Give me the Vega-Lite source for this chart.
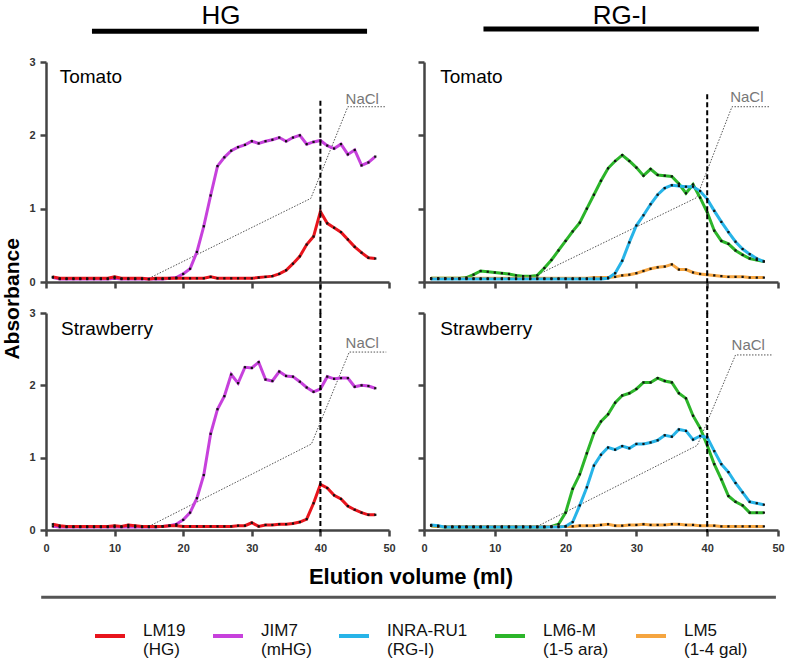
{
"$schema": "https://vega.github.io/schema/vega-lite/v6.json",
"background": "white",
"padding": {"left": 2, "top": 2, "right": 5, "bottom": 5},
"config": {
  "view": {"stroke": null},
  "font": "Liberation Sans",
  "axis": {"domainColor": "#444", "domainWidth": 2.5, "tickColor": "#444", "tickWidth": 2.5, "tickSize": 6, "grid": false, "labelFontWeight": "bold", "labelFontSize": 11, "labelColor": "#333", "labelFlush": false, "labelOverlap": false},
  "legend": {"title": null, "orient": "none", "legendX": 47, "legendY": 557, "direction": "horizontal", "columns": 5, "symbolType": "stroke", "symbolStrokeWidth": 4, "symbolSize": 900, "labelFontSize": 17, "labelColor": "#111", "labelLimit": 300, "columnPadding": 19, "labelOffset": 16, "labelBaseline": "alphabetic"}
},
"datasets": {
"abs": [
{"f":"T","s":"JIM7","x":1,"y":0.06},{"f":"T","s":"JIM7","x":2,"y":0.04},{"f":"T","s":"JIM7","x":3,"y":0.04},{"f":"T","s":"JIM7","x":4,"y":0.04},{"f":"T","s":"JIM7","x":5,"y":0.04},{"f":"T","s":"JIM7","x":6,"y":0.04},{"f":"T","s":"JIM7","x":7,"y":0.04},{"f":"T","s":"JIM7","x":8,"y":0.04},{"f":"T","s":"JIM7","x":9,"y":0.04},{"f":"T","s":"JIM7","x":10,"y":0.05},{"f":"T","s":"JIM7","x":11,"y":0.04},{"f":"T","s":"JIM7","x":12,"y":0.04},{"f":"T","s":"JIM7","x":13,"y":0.04},{"f":"T","s":"JIM7","x":14,"y":0.04},{"f":"T","s":"JIM7","x":15,"y":0.04},{"f":"T","s":"JIM7","x":16,"y":0.04},{"f":"T","s":"JIM7","x":17,"y":0.04},{"f":"T","s":"JIM7","x":18,"y":0.05},{"f":"T","s":"JIM7","x":19,"y":0.06},{"f":"T","s":"JIM7","x":20,"y":0.11},{"f":"T","s":"JIM7","x":21,"y":0.18},{"f":"T","s":"JIM7","x":22,"y":0.41},{"f":"T","s":"JIM7","x":23,"y":0.76},{"f":"T","s":"JIM7","x":24,"y":1.18},{"f":"T","s":"JIM7","x":25,"y":1.58},{"f":"T","s":"JIM7","x":26,"y":1.7},{"f":"T","s":"JIM7","x":27,"y":1.79},{"f":"T","s":"JIM7","x":28,"y":1.84},{"f":"T","s":"JIM7","x":29,"y":1.87},{"f":"T","s":"JIM7","x":30,"y":1.92},{"f":"T","s":"JIM7","x":31,"y":1.89},{"f":"T","s":"JIM7","x":32,"y":1.92},{"f":"T","s":"JIM7","x":33,"y":1.94},{"f":"T","s":"JIM7","x":34,"y":1.97},{"f":"T","s":"JIM7","x":35,"y":1.92},{"f":"T","s":"JIM7","x":36,"y":1.97},{"f":"T","s":"JIM7","x":37,"y":2.0},{"f":"T","s":"JIM7","x":38,"y":1.88},{"f":"T","s":"JIM7","x":39,"y":1.91},{"f":"T","s":"JIM7","x":40,"y":1.93},{"f":"T","s":"JIM7","x":41,"y":1.86},{"f":"T","s":"JIM7","x":42,"y":1.82},{"f":"T","s":"JIM7","x":43,"y":1.88},{"f":"T","s":"JIM7","x":44,"y":1.74},{"f":"T","s":"JIM7","x":45,"y":1.8},{"f":"T","s":"JIM7","x":46,"y":1.59},{"f":"T","s":"JIM7","x":47,"y":1.63},{"f":"T","s":"JIM7","x":48,"y":1.71},
{"f":"T","s":"LM19","x":1,"y":0.07},{"f":"T","s":"LM19","x":2,"y":0.05},{"f":"T","s":"LM19","x":3,"y":0.05},{"f":"T","s":"LM19","x":4,"y":0.05},{"f":"T","s":"LM19","x":5,"y":0.05},{"f":"T","s":"LM19","x":6,"y":0.05},{"f":"T","s":"LM19","x":7,"y":0.05},{"f":"T","s":"LM19","x":8,"y":0.05},{"f":"T","s":"LM19","x":9,"y":0.05},{"f":"T","s":"LM19","x":10,"y":0.07},{"f":"T","s":"LM19","x":11,"y":0.05},{"f":"T","s":"LM19","x":12,"y":0.05},{"f":"T","s":"LM19","x":13,"y":0.05},{"f":"T","s":"LM19","x":14,"y":0.05},{"f":"T","s":"LM19","x":15,"y":0.04},{"f":"T","s":"LM19","x":16,"y":0.05},{"f":"T","s":"LM19","x":17,"y":0.05},{"f":"T","s":"LM19","x":18,"y":0.05},{"f":"T","s":"LM19","x":19,"y":0.05},{"f":"T","s":"LM19","x":20,"y":0.05},{"f":"T","s":"LM19","x":21,"y":0.05},{"f":"T","s":"LM19","x":22,"y":0.05},{"f":"T","s":"LM19","x":23,"y":0.05},{"f":"T","s":"LM19","x":24,"y":0.07},{"f":"T","s":"LM19","x":25,"y":0.05},{"f":"T","s":"LM19","x":26,"y":0.05},{"f":"T","s":"LM19","x":27,"y":0.05},{"f":"T","s":"LM19","x":28,"y":0.05},{"f":"T","s":"LM19","x":29,"y":0.05},{"f":"T","s":"LM19","x":30,"y":0.05},{"f":"T","s":"LM19","x":31,"y":0.06},{"f":"T","s":"LM19","x":32,"y":0.07},{"f":"T","s":"LM19","x":33,"y":0.08},{"f":"T","s":"LM19","x":34,"y":0.11},{"f":"T","s":"LM19","x":35,"y":0.16},{"f":"T","s":"LM19","x":36,"y":0.25},{"f":"T","s":"LM19","x":37,"y":0.35},{"f":"T","s":"LM19","x":38,"y":0.51},{"f":"T","s":"LM19","x":39,"y":0.62},{"f":"T","s":"LM19","x":40,"y":0.96},{"f":"T","s":"LM19","x":41,"y":0.8},{"f":"T","s":"LM19","x":42,"y":0.74},{"f":"T","s":"LM19","x":43,"y":0.68},{"f":"T","s":"LM19","x":44,"y":0.58},{"f":"T","s":"LM19","x":45,"y":0.48},{"f":"T","s":"LM19","x":46,"y":0.4},{"f":"T","s":"LM19","x":47,"y":0.33},{"f":"T","s":"LM19","x":48,"y":0.32},
{"f":"S","s":"JIM7","x":1,"y":0.05},{"f":"S","s":"JIM7","x":2,"y":0.04},{"f":"S","s":"JIM7","x":3,"y":0.04},{"f":"S","s":"JIM7","x":4,"y":0.04},{"f":"S","s":"JIM7","x":5,"y":0.04},{"f":"S","s":"JIM7","x":6,"y":0.04},{"f":"S","s":"JIM7","x":7,"y":0.04},{"f":"S","s":"JIM7","x":8,"y":0.04},{"f":"S","s":"JIM7","x":9,"y":0.04},{"f":"S","s":"JIM7","x":10,"y":0.04},{"f":"S","s":"JIM7","x":11,"y":0.04},{"f":"S","s":"JIM7","x":12,"y":0.04},{"f":"S","s":"JIM7","x":13,"y":0.04},{"f":"S","s":"JIM7","x":14,"y":0.04},{"f":"S","s":"JIM7","x":15,"y":0.04},{"f":"S","s":"JIM7","x":16,"y":0.04},{"f":"S","s":"JIM7","x":17,"y":0.05},{"f":"S","s":"JIM7","x":18,"y":0.06},{"f":"S","s":"JIM7","x":19,"y":0.08},{"f":"S","s":"JIM7","x":20,"y":0.14},{"f":"S","s":"JIM7","x":21,"y":0.24},{"f":"S","s":"JIM7","x":22,"y":0.44},{"f":"S","s":"JIM7","x":23,"y":0.76},{"f":"S","s":"JIM7","x":24,"y":1.33},{"f":"S","s":"JIM7","x":25,"y":1.67},{"f":"S","s":"JIM7","x":26,"y":1.85},{"f":"S","s":"JIM7","x":27,"y":2.15},{"f":"S","s":"JIM7","x":28,"y":2.03},{"f":"S","s":"JIM7","x":29,"y":2.25},{"f":"S","s":"JIM7","x":30,"y":2.24},{"f":"S","s":"JIM7","x":31,"y":2.32},{"f":"S","s":"JIM7","x":32,"y":2.08},{"f":"S","s":"JIM7","x":33,"y":2.06},{"f":"S","s":"JIM7","x":34,"y":2.19},{"f":"S","s":"JIM7","x":35,"y":2.13},{"f":"S","s":"JIM7","x":36,"y":2.12},{"f":"S","s":"JIM7","x":37,"y":2.05},{"f":"S","s":"JIM7","x":38,"y":1.97},{"f":"S","s":"JIM7","x":39,"y":1.91},{"f":"S","s":"JIM7","x":40,"y":1.95},{"f":"S","s":"JIM7","x":41,"y":2.12},{"f":"S","s":"JIM7","x":42,"y":2.09},{"f":"S","s":"JIM7","x":43,"y":2.1},{"f":"S","s":"JIM7","x":44,"y":2.1},{"f":"S","s":"JIM7","x":45,"y":1.98},{"f":"S","s":"JIM7","x":46,"y":2.0},{"f":"S","s":"JIM7","x":47,"y":1.99},{"f":"S","s":"JIM7","x":48,"y":1.96},
{"f":"S","s":"LM19","x":1,"y":0.08},{"f":"S","s":"LM19","x":2,"y":0.06},{"f":"S","s":"LM19","x":3,"y":0.05},{"f":"S","s":"LM19","x":4,"y":0.05},{"f":"S","s":"LM19","x":5,"y":0.05},{"f":"S","s":"LM19","x":6,"y":0.05},{"f":"S","s":"LM19","x":7,"y":0.05},{"f":"S","s":"LM19","x":8,"y":0.05},{"f":"S","s":"LM19","x":9,"y":0.05},{"f":"S","s":"LM19","x":10,"y":0.06},{"f":"S","s":"LM19","x":11,"y":0.05},{"f":"S","s":"LM19","x":12,"y":0.07},{"f":"S","s":"LM19","x":13,"y":0.06},{"f":"S","s":"LM19","x":14,"y":0.05},{"f":"S","s":"LM19","x":15,"y":0.05},{"f":"S","s":"LM19","x":16,"y":0.05},{"f":"S","s":"LM19","x":17,"y":0.05},{"f":"S","s":"LM19","x":18,"y":0.06},{"f":"S","s":"LM19","x":19,"y":0.06},{"f":"S","s":"LM19","x":20,"y":0.05},{"f":"S","s":"LM19","x":21,"y":0.05},{"f":"S","s":"LM19","x":22,"y":0.05},{"f":"S","s":"LM19","x":23,"y":0.05},{"f":"S","s":"LM19","x":24,"y":0.05},{"f":"S","s":"LM19","x":25,"y":0.05},{"f":"S","s":"LM19","x":26,"y":0.05},{"f":"S","s":"LM19","x":27,"y":0.05},{"f":"S","s":"LM19","x":28,"y":0.06},{"f":"S","s":"LM19","x":29,"y":0.06},{"f":"S","s":"LM19","x":30,"y":0.1},{"f":"S","s":"LM19","x":31,"y":0.05},{"f":"S","s":"LM19","x":32,"y":0.07},{"f":"S","s":"LM19","x":33,"y":0.07},{"f":"S","s":"LM19","x":34,"y":0.08},{"f":"S","s":"LM19","x":35,"y":0.08},{"f":"S","s":"LM19","x":36,"y":0.09},{"f":"S","s":"LM19","x":37,"y":0.11},{"f":"S","s":"LM19","x":38,"y":0.15},{"f":"S","s":"LM19","x":39,"y":0.37},{"f":"S","s":"LM19","x":40,"y":0.63},{"f":"S","s":"LM19","x":41,"y":0.58},{"f":"S","s":"LM19","x":42,"y":0.48},{"f":"S","s":"LM19","x":43,"y":0.43},{"f":"S","s":"LM19","x":44,"y":0.33},{"f":"S","s":"LM19","x":45,"y":0.28},{"f":"S","s":"LM19","x":46,"y":0.24},{"f":"S","s":"LM19","x":47,"y":0.21},{"f":"S","s":"LM19","x":48,"y":0.21},
{"f":"T","s":"LM6-M","x":1,"y":0.05},{"f":"T","s":"LM6-M","x":2,"y":0.05},{"f":"T","s":"LM6-M","x":3,"y":0.05},{"f":"T","s":"LM6-M","x":4,"y":0.05},{"f":"T","s":"LM6-M","x":5,"y":0.05},{"f":"T","s":"LM6-M","x":6,"y":0.06},{"f":"T","s":"LM6-M","x":7,"y":0.1},{"f":"T","s":"LM6-M","x":8,"y":0.15},{"f":"T","s":"LM6-M","x":9,"y":0.14},{"f":"T","s":"LM6-M","x":10,"y":0.13},{"f":"T","s":"LM6-M","x":11,"y":0.12},{"f":"T","s":"LM6-M","x":12,"y":0.11},{"f":"T","s":"LM6-M","x":13,"y":0.09},{"f":"T","s":"LM6-M","x":14,"y":0.08},{"f":"T","s":"LM6-M","x":15,"y":0.08},{"f":"T","s":"LM6-M","x":16,"y":0.09},{"f":"T","s":"LM6-M","x":17,"y":0.19},{"f":"T","s":"LM6-M","x":18,"y":0.3},{"f":"T","s":"LM6-M","x":19,"y":0.43},{"f":"T","s":"LM6-M","x":20,"y":0.56},{"f":"T","s":"LM6-M","x":21,"y":0.69},{"f":"T","s":"LM6-M","x":22,"y":0.81},{"f":"T","s":"LM6-M","x":23,"y":1.0},{"f":"T","s":"LM6-M","x":24,"y":1.19},{"f":"T","s":"LM6-M","x":25,"y":1.38},{"f":"T","s":"LM6-M","x":26,"y":1.55},{"f":"T","s":"LM6-M","x":27,"y":1.65},{"f":"T","s":"LM6-M","x":28,"y":1.73},{"f":"T","s":"LM6-M","x":29,"y":1.65},{"f":"T","s":"LM6-M","x":30,"y":1.56},{"f":"T","s":"LM6-M","x":31,"y":1.45},{"f":"T","s":"LM6-M","x":32,"y":1.54},{"f":"T","s":"LM6-M","x":33,"y":1.46},{"f":"T","s":"LM6-M","x":34,"y":1.45},{"f":"T","s":"LM6-M","x":35,"y":1.44},{"f":"T","s":"LM6-M","x":36,"y":1.34},{"f":"T","s":"LM6-M","x":37,"y":1.21},{"f":"T","s":"LM6-M","x":38,"y":1.33},{"f":"T","s":"LM6-M","x":39,"y":1.15},{"f":"T","s":"LM6-M","x":40,"y":0.95},{"f":"T","s":"LM6-M","x":41,"y":0.7},{"f":"T","s":"LM6-M","x":42,"y":0.56},{"f":"T","s":"LM6-M","x":43,"y":0.52},{"f":"T","s":"LM6-M","x":44,"y":0.43},{"f":"T","s":"LM6-M","x":45,"y":0.37},{"f":"T","s":"LM6-M","x":46,"y":0.32},{"f":"T","s":"LM6-M","x":47,"y":0.3},{"f":"T","s":"LM6-M","x":48,"y":0.28},
{"f":"T","s":"LM5","x":1,"y":0.05},{"f":"T","s":"LM5","x":2,"y":0.05},{"f":"T","s":"LM5","x":3,"y":0.05},{"f":"T","s":"LM5","x":4,"y":0.05},{"f":"T","s":"LM5","x":5,"y":0.05},{"f":"T","s":"LM5","x":6,"y":0.05},{"f":"T","s":"LM5","x":7,"y":0.05},{"f":"T","s":"LM5","x":8,"y":0.05},{"f":"T","s":"LM5","x":9,"y":0.05},{"f":"T","s":"LM5","x":10,"y":0.05},{"f":"T","s":"LM5","x":11,"y":0.05},{"f":"T","s":"LM5","x":12,"y":0.05},{"f":"T","s":"LM5","x":13,"y":0.05},{"f":"T","s":"LM5","x":14,"y":0.05},{"f":"T","s":"LM5","x":15,"y":0.05},{"f":"T","s":"LM5","x":16,"y":0.05},{"f":"T","s":"LM5","x":17,"y":0.05},{"f":"T","s":"LM5","x":18,"y":0.05},{"f":"T","s":"LM5","x":19,"y":0.05},{"f":"T","s":"LM5","x":20,"y":0.05},{"f":"T","s":"LM5","x":21,"y":0.05},{"f":"T","s":"LM5","x":22,"y":0.05},{"f":"T","s":"LM5","x":23,"y":0.05},{"f":"T","s":"LM5","x":24,"y":0.06},{"f":"T","s":"LM5","x":25,"y":0.06},{"f":"T","s":"LM5","x":26,"y":0.06},{"f":"T","s":"LM5","x":27,"y":0.07},{"f":"T","s":"LM5","x":28,"y":0.09},{"f":"T","s":"LM5","x":29,"y":0.1},{"f":"T","s":"LM5","x":30,"y":0.12},{"f":"T","s":"LM5","x":31,"y":0.15},{"f":"T","s":"LM5","x":32,"y":0.18},{"f":"T","s":"LM5","x":33,"y":0.2},{"f":"T","s":"LM5","x":34,"y":0.21},{"f":"T","s":"LM5","x":35,"y":0.24},{"f":"T","s":"LM5","x":36,"y":0.17},{"f":"T","s":"LM5","x":37,"y":0.17},{"f":"T","s":"LM5","x":38,"y":0.13},{"f":"T","s":"LM5","x":39,"y":0.11},{"f":"T","s":"LM5","x":40,"y":0.1},{"f":"T","s":"LM5","x":41,"y":0.09},{"f":"T","s":"LM5","x":42,"y":0.08},{"f":"T","s":"LM5","x":43,"y":0.07},{"f":"T","s":"LM5","x":44,"y":0.07},{"f":"T","s":"LM5","x":45,"y":0.07},{"f":"T","s":"LM5","x":46,"y":0.06},{"f":"T","s":"LM5","x":47,"y":0.06},{"f":"T","s":"LM5","x":48,"y":0.06},
{"f":"T","s":"INRA-RU1","x":1,"y":0.04},{"f":"T","s":"INRA-RU1","x":2,"y":0.04},{"f":"T","s":"INRA-RU1","x":3,"y":0.04},{"f":"T","s":"INRA-RU1","x":4,"y":0.04},{"f":"T","s":"INRA-RU1","x":5,"y":0.04},{"f":"T","s":"INRA-RU1","x":6,"y":0.04},{"f":"T","s":"INRA-RU1","x":7,"y":0.04},{"f":"T","s":"INRA-RU1","x":8,"y":0.04},{"f":"T","s":"INRA-RU1","x":9,"y":0.04},{"f":"T","s":"INRA-RU1","x":10,"y":0.04},{"f":"T","s":"INRA-RU1","x":11,"y":0.04},{"f":"T","s":"INRA-RU1","x":12,"y":0.04},{"f":"T","s":"INRA-RU1","x":13,"y":0.04},{"f":"T","s":"INRA-RU1","x":14,"y":0.04},{"f":"T","s":"INRA-RU1","x":15,"y":0.04},{"f":"T","s":"INRA-RU1","x":16,"y":0.04},{"f":"T","s":"INRA-RU1","x":17,"y":0.04},{"f":"T","s":"INRA-RU1","x":18,"y":0.04},{"f":"T","s":"INRA-RU1","x":19,"y":0.04},{"f":"T","s":"INRA-RU1","x":20,"y":0.04},{"f":"T","s":"INRA-RU1","x":21,"y":0.04},{"f":"T","s":"INRA-RU1","x":22,"y":0.04},{"f":"T","s":"INRA-RU1","x":23,"y":0.04},{"f":"T","s":"INRA-RU1","x":24,"y":0.04},{"f":"T","s":"INRA-RU1","x":25,"y":0.04},{"f":"T","s":"INRA-RU1","x":26,"y":0.05},{"f":"T","s":"INRA-RU1","x":27,"y":0.12},{"f":"T","s":"INRA-RU1","x":28,"y":0.29},{"f":"T","s":"INRA-RU1","x":29,"y":0.54},{"f":"T","s":"INRA-RU1","x":30,"y":0.77},{"f":"T","s":"INRA-RU1","x":31,"y":0.91},{"f":"T","s":"INRA-RU1","x":32,"y":1.06},{"f":"T","s":"INRA-RU1","x":33,"y":1.19},{"f":"T","s":"INRA-RU1","x":34,"y":1.28},{"f":"T","s":"INRA-RU1","x":35,"y":1.32},{"f":"T","s":"INRA-RU1","x":36,"y":1.31},{"f":"T","s":"INRA-RU1","x":37,"y":1.3},{"f":"T","s":"INRA-RU1","x":38,"y":1.3},{"f":"T","s":"INRA-RU1","x":39,"y":1.24},{"f":"T","s":"INRA-RU1","x":40,"y":1.13},{"f":"T","s":"INRA-RU1","x":41,"y":0.97},{"f":"T","s":"INRA-RU1","x":42,"y":0.82},{"f":"T","s":"INRA-RU1","x":43,"y":0.68},{"f":"T","s":"INRA-RU1","x":44,"y":0.55},{"f":"T","s":"INRA-RU1","x":45,"y":0.45},{"f":"T","s":"INRA-RU1","x":46,"y":0.38},{"f":"T","s":"INRA-RU1","x":47,"y":0.32},{"f":"T","s":"INRA-RU1","x":48,"y":0.28},
{"f":"S","s":"LM6-M","x":1,"y":0.06},{"f":"S","s":"LM6-M","x":2,"y":0.05},{"f":"S","s":"LM6-M","x":3,"y":0.04},{"f":"S","s":"LM6-M","x":4,"y":0.04},{"f":"S","s":"LM6-M","x":5,"y":0.04},{"f":"S","s":"LM6-M","x":6,"y":0.04},{"f":"S","s":"LM6-M","x":7,"y":0.04},{"f":"S","s":"LM6-M","x":8,"y":0.04},{"f":"S","s":"LM6-M","x":9,"y":0.04},{"f":"S","s":"LM6-M","x":10,"y":0.04},{"f":"S","s":"LM6-M","x":11,"y":0.04},{"f":"S","s":"LM6-M","x":12,"y":0.04},{"f":"S","s":"LM6-M","x":13,"y":0.04},{"f":"S","s":"LM6-M","x":14,"y":0.04},{"f":"S","s":"LM6-M","x":15,"y":0.04},{"f":"S","s":"LM6-M","x":16,"y":0.04},{"f":"S","s":"LM6-M","x":17,"y":0.04},{"f":"S","s":"LM6-M","x":18,"y":0.05},{"f":"S","s":"LM6-M","x":19,"y":0.08},{"f":"S","s":"LM6-M","x":20,"y":0.24},{"f":"S","s":"LM6-M","x":21,"y":0.57},{"f":"S","s":"LM6-M","x":22,"y":0.77},{"f":"S","s":"LM6-M","x":23,"y":1.06},{"f":"S","s":"LM6-M","x":24,"y":1.34},{"f":"S","s":"LM6-M","x":25,"y":1.5},{"f":"S","s":"LM6-M","x":26,"y":1.6},{"f":"S","s":"LM6-M","x":27,"y":1.76},{"f":"S","s":"LM6-M","x":28,"y":1.86},{"f":"S","s":"LM6-M","x":29,"y":1.89},{"f":"S","s":"LM6-M","x":30,"y":1.95},{"f":"S","s":"LM6-M","x":31,"y":2.04},{"f":"S","s":"LM6-M","x":32,"y":2.04},{"f":"S","s":"LM6-M","x":33,"y":2.1},{"f":"S","s":"LM6-M","x":34,"y":2.06},{"f":"S","s":"LM6-M","x":35,"y":2.04},{"f":"S","s":"LM6-M","x":36,"y":1.89},{"f":"S","s":"LM6-M","x":37,"y":1.82},{"f":"S","s":"LM6-M","x":38,"y":1.58},{"f":"S","s":"LM6-M","x":39,"y":1.41},{"f":"S","s":"LM6-M","x":40,"y":1.17},{"f":"S","s":"LM6-M","x":41,"y":0.91},{"f":"S","s":"LM6-M","x":42,"y":0.7},{"f":"S","s":"LM6-M","x":43,"y":0.47},{"f":"S","s":"LM6-M","x":44,"y":0.39},{"f":"S","s":"LM6-M","x":45,"y":0.34},{"f":"S","s":"LM6-M","x":46,"y":0.24},{"f":"S","s":"LM6-M","x":47,"y":0.24},{"f":"S","s":"LM6-M","x":48,"y":0.24},
{"f":"S","s":"LM5","x":1,"y":0.06},{"f":"S","s":"LM5","x":2,"y":0.05},{"f":"S","s":"LM5","x":3,"y":0.05},{"f":"S","s":"LM5","x":4,"y":0.05},{"f":"S","s":"LM5","x":5,"y":0.05},{"f":"S","s":"LM5","x":6,"y":0.05},{"f":"S","s":"LM5","x":7,"y":0.05},{"f":"S","s":"LM5","x":8,"y":0.05},{"f":"S","s":"LM5","x":9,"y":0.05},{"f":"S","s":"LM5","x":10,"y":0.05},{"f":"S","s":"LM5","x":11,"y":0.05},{"f":"S","s":"LM5","x":12,"y":0.05},{"f":"S","s":"LM5","x":13,"y":0.05},{"f":"S","s":"LM5","x":14,"y":0.05},{"f":"S","s":"LM5","x":15,"y":0.05},{"f":"S","s":"LM5","x":16,"y":0.05},{"f":"S","s":"LM5","x":17,"y":0.05},{"f":"S","s":"LM5","x":18,"y":0.05},{"f":"S","s":"LM5","x":19,"y":0.05},{"f":"S","s":"LM5","x":20,"y":0.05},{"f":"S","s":"LM5","x":21,"y":0.05},{"f":"S","s":"LM5","x":22,"y":0.06},{"f":"S","s":"LM5","x":23,"y":0.06},{"f":"S","s":"LM5","x":24,"y":0.06},{"f":"S","s":"LM5","x":25,"y":0.07},{"f":"S","s":"LM5","x":26,"y":0.08},{"f":"S","s":"LM5","x":27,"y":0.06},{"f":"S","s":"LM5","x":28,"y":0.06},{"f":"S","s":"LM5","x":29,"y":0.07},{"f":"S","s":"LM5","x":30,"y":0.07},{"f":"S","s":"LM5","x":31,"y":0.08},{"f":"S","s":"LM5","x":32,"y":0.07},{"f":"S","s":"LM5","x":33,"y":0.07},{"f":"S","s":"LM5","x":34,"y":0.07},{"f":"S","s":"LM5","x":35,"y":0.08},{"f":"S","s":"LM5","x":36,"y":0.08},{"f":"S","s":"LM5","x":37,"y":0.07},{"f":"S","s":"LM5","x":38,"y":0.07},{"f":"S","s":"LM5","x":39,"y":0.06},{"f":"S","s":"LM5","x":40,"y":0.06},{"f":"S","s":"LM5","x":41,"y":0.06},{"f":"S","s":"LM5","x":42,"y":0.05},{"f":"S","s":"LM5","x":43,"y":0.05},{"f":"S","s":"LM5","x":44,"y":0.05},{"f":"S","s":"LM5","x":45,"y":0.05},{"f":"S","s":"LM5","x":46,"y":0.05},{"f":"S","s":"LM5","x":47,"y":0.05},{"f":"S","s":"LM5","x":48,"y":0.05},
{"f":"S","s":"INRA-RU1","x":1,"y":0.07},{"f":"S","s":"INRA-RU1","x":2,"y":0.06},{"f":"S","s":"INRA-RU1","x":3,"y":0.04},{"f":"S","s":"INRA-RU1","x":4,"y":0.04},{"f":"S","s":"INRA-RU1","x":5,"y":0.04},{"f":"S","s":"INRA-RU1","x":6,"y":0.04},{"f":"S","s":"INRA-RU1","x":7,"y":0.04},{"f":"S","s":"INRA-RU1","x":8,"y":0.04},{"f":"S","s":"INRA-RU1","x":9,"y":0.04},{"f":"S","s":"INRA-RU1","x":10,"y":0.04},{"f":"S","s":"INRA-RU1","x":11,"y":0.04},{"f":"S","s":"INRA-RU1","x":12,"y":0.04},{"f":"S","s":"INRA-RU1","x":13,"y":0.04},{"f":"S","s":"INRA-RU1","x":14,"y":0.04},{"f":"S","s":"INRA-RU1","x":15,"y":0.04},{"f":"S","s":"INRA-RU1","x":16,"y":0.04},{"f":"S","s":"INRA-RU1","x":17,"y":0.04},{"f":"S","s":"INRA-RU1","x":18,"y":0.04},{"f":"S","s":"INRA-RU1","x":19,"y":0.04},{"f":"S","s":"INRA-RU1","x":20,"y":0.05},{"f":"S","s":"INRA-RU1","x":21,"y":0.11},{"f":"S","s":"INRA-RU1","x":22,"y":0.34},{"f":"S","s":"INRA-RU1","x":23,"y":0.59},{"f":"S","s":"INRA-RU1","x":24,"y":0.89},{"f":"S","s":"INRA-RU1","x":25,"y":1.04},{"f":"S","s":"INRA-RU1","x":26,"y":1.14},{"f":"S","s":"INRA-RU1","x":27,"y":1.11},{"f":"S","s":"INRA-RU1","x":28,"y":1.16},{"f":"S","s":"INRA-RU1","x":29,"y":1.13},{"f":"S","s":"INRA-RU1","x":30,"y":1.19},{"f":"S","s":"INRA-RU1","x":31,"y":1.19},{"f":"S","s":"INRA-RU1","x":32,"y":1.21},{"f":"S","s":"INRA-RU1","x":33,"y":1.24},{"f":"S","s":"INRA-RU1","x":34,"y":1.31},{"f":"S","s":"INRA-RU1","x":35,"y":1.29},{"f":"S","s":"INRA-RU1","x":36,"y":1.39},{"f":"S","s":"INRA-RU1","x":37,"y":1.37},{"f":"S","s":"INRA-RU1","x":38,"y":1.25},{"f":"S","s":"INRA-RU1","x":39,"y":1.3},{"f":"S","s":"INRA-RU1","x":40,"y":1.28},{"f":"S","s":"INRA-RU1","x":41,"y":1.09},{"f":"S","s":"INRA-RU1","x":42,"y":0.91},{"f":"S","s":"INRA-RU1","x":43,"y":0.8},{"f":"S","s":"INRA-RU1","x":44,"y":0.65},{"f":"S","s":"INRA-RU1","x":45,"y":0.52},{"f":"S","s":"INRA-RU1","x":46,"y":0.39},{"f":"S","s":"INRA-RU1","x":47,"y":0.37},{"f":"S","s":"INRA-RU1","x":48,"y":0.35}
],
"nacl": [
{"p":"TL","x":15,"y":0.05},{"p":"TL","x":38.6,"y":1.14},{"p":"TL","x":44,"y":2.39},{"p":"TL","x":49.4,"y":2.39},
{"p":"TR","x":15,"y":0.05},{"p":"TR","x":38.5,"y":1.15},{"p":"TR","x":43.5,"y":2.39},{"p":"TR","x":48.9,"y":2.39},
{"p":"BL","x":15,"y":0.05},{"p":"BL","x":38.7,"y":1.19},{"p":"BL","x":44.2,"y":2.46},{"p":"BL","x":49.6,"y":2.46},
{"p":"BR","x":16,"y":0.05},{"p":"BR","x":38.6,"y":1.17},{"p":"BR","x":44,"y":2.42},{"p":"BR","x":49.3,"y":2.42}
]
},
"columns": 2,
"spacing": {"row": 31, "column": 35},
"bounds": "flush",
"align": "each",
"resolve": {"scale": {"color": "shared"}, "legend": {"color": "shared"}},
"concat": [
{
 "width": 343, "height": 220,
 "encoding": {
  "x": {"field": "x", "type": "quantitative", "scale": {"domain": [0, 50]}, "axis": {"title": null, "values": [0,10,20,30,40,50], "labels": false}},
  "y": {"field": "y", "type": "quantitative", "scale": {"domain": [0, 3]}, "axis": {"title": null, "values": [0,1,2,3], "labelPadding": 5}}
 },
 "layer": [
  {"data": {"name": "nacl"}, "transform": [{"filter": "datum.p == 'TL'"}], "mark": {"type": "line", "stroke": "#555", "strokeWidth": 1, "strokeDash": [1.5, 1.5]}},
  {"data": {"name": "abs"}, "transform": [{"filter": "datum.f == 'T' && (datum.s == 'JIM7' || datum.s == 'LM19')"}], "mark": {"type": "line", "strokeWidth": 3},
   "encoding": {"color": {"field": "s", "type": "nominal", "scale": {"domain": ["LM19","JIM7","INRA-RU1","LM6-M","LM5"], "range": ["#e8141c","#c741dc","#27b4e8","#2cb52a","#f5a540"]},
     "legend": {"title": null, "orient": "none", "legendX": 47, "legendY": 557, "direction": "horizontal", "columns": 5,
      "labelExpr": "datum.label == 'LM19' ? ['LM19', '(HG)'] : datum.label == 'JIM7' ? ['JIM7', '(mHG)'] : datum.label == 'INRA-RU1' ? ['INRA-RU1', '(RG-I)'] : datum.label == 'LM6-M' ? ['LM6-M', '(1-5 ara)'] : ['LM5', '(1-4 gal)']"}}}},
  {"data": {"name": "abs"}, "transform": [{"filter": "datum.f == 'T' && (datum.s == 'JIM7' || datum.s == 'LM19')"}], "mark": {"type": "point", "shape": "square", "filled": true, "size": 5, "color": "#111", "opacity": 1}},
  {"data": {"values": [{"x": 40, "y": 2.47, "y2": -0.43}]}, "mark": {"type": "rule", "strokeDash": [5, 3], "strokeWidth": 2, "color": "#000"}, "encoding": {"y2": {"field": "y2"}}},
  {"data": {"values": [{"x": 2, "y": 2.71, "t": "Tomato"}]}, "mark": {"type": "text", "align": "left", "baseline": "alphabetic", "fontSize": 19, "color": "#000"}, "encoding": {"text": {"field": "t"}}},
  {"data": {"values": [{"x": 46.1, "y": 2.5, "t": "NaCl"}]}, "mark": {"type": "text", "align": "center", "baseline": "middle", "fontSize": 15, "color": "#777"}, "encoding": {"text": {"field": "t"}}},
  {"data": {"values": [{"x": 25.5, "y": 3.52, "t": "HG"}]}, "mark": {"type": "text", "align": "center", "baseline": "alphabetic", "fontSize": 26, "color": "#000"}, "encoding": {"text": {"field": "t"}}},
  {"data": {"values": [{"x": 6.7, "x2": 46.8, "y": 3.42}]}, "mark": {"type": "rule", "strokeWidth": 5, "color": "#000"}, "encoding": {"x2": {"field": "x2"}}},
  {"data": {"values": [{"x": -4.8, "y": -0.23, "t": "Absorbance"}]}, "mark": {"type": "text", "align": "center", "baseline": "middle", "angle": 270, "fontSize": 21, "fontWeight": "bold", "color": "#000"}, "encoding": {"text": {"field": "t"}}}
 ]
},
{
 "width": 354, "height": 220,
 "encoding": {
  "x": {"field": "x", "type": "quantitative", "scale": {"domain": [0, 50]}, "axis": {"title": null, "values": [0,10,20,30,40,50], "labels": false}},
  "y": {"field": "y", "type": "quantitative", "scale": {"domain": [0, 3]}, "axis": {"title": null, "values": [0,1,2,3], "labels": false}}
 },
 "layer": [
  {"data": {"name": "nacl"}, "transform": [{"filter": "datum.p == 'TR'"}], "mark": {"type": "line", "stroke": "#555", "strokeWidth": 1, "strokeDash": [1.5, 1.5]}},
  {"data": {"name": "abs"}, "transform": [{"filter": "datum.f == 'T' && (datum.s == 'LM6-M' || datum.s == 'LM5' || datum.s == 'INRA-RU1')"}], "mark": {"type": "line", "strokeWidth": 3},
   "encoding": {"color": {"field": "s", "type": "nominal", "scale": {"domain": ["LM19","JIM7","INRA-RU1","LM6-M","LM5"], "range": ["#e8141c","#c741dc","#27b4e8","#2cb52a","#f5a540"]},
     "legend": {"title": null, "orient": "none", "legendX": 47, "legendY": 557, "direction": "horizontal", "columns": 5,
      "labelExpr": "datum.label == 'LM19' ? ['LM19', '(HG)'] : datum.label == 'JIM7' ? ['JIM7', '(mHG)'] : datum.label == 'INRA-RU1' ? ['INRA-RU1', '(RG-I)'] : datum.label == 'LM6-M' ? ['LM6-M', '(1-5 ara)'] : ['LM5', '(1-4 gal)']"}}}},
  {"data": {"name": "abs"}, "transform": [{"filter": "datum.f == 'T' && (datum.s == 'LM6-M' || datum.s == 'LM5' || datum.s == 'INRA-RU1')"}], "mark": {"type": "point", "shape": "square", "filled": true, "size": 5, "color": "#111", "opacity": 1}},
  {"data": {"values": [{"x": 40, "y": 2.56, "y2": -0.43}]}, "mark": {"type": "rule", "strokeDash": [5, 3], "strokeWidth": 2, "color": "#000"}, "encoding": {"y2": {"field": "y2"}}},
  {"data": {"values": [{"x": 2.3, "y": 2.71, "t": "Tomato"}]}, "mark": {"type": "text", "align": "left", "baseline": "alphabetic", "fontSize": 19, "color": "#000"}, "encoding": {"text": {"field": "t"}}},
  {"data": {"values": [{"x": 45.6, "y": 2.52, "t": "NaCl"}]}, "mark": {"type": "text", "align": "center", "baseline": "middle", "fontSize": 15, "color": "#777"}, "encoding": {"text": {"field": "t"}}},
  {"data": {"values": [{"x": 27.7, "y": 3.52, "t": "RG-I"}]}, "mark": {"type": "text", "align": "center", "baseline": "alphabetic", "fontSize": 26, "color": "#000"}, "encoding": {"text": {"field": "t"}}},
  {"data": {"values": [{"x": 8.4, "x2": 47.3, "y": 3.45}]}, "mark": {"type": "rule", "strokeWidth": 5, "color": "#000"}, "encoding": {"x2": {"field": "x2"}}}
 ]
},
{
 "width": 343, "height": 217,
 "encoding": {
  "x": {"field": "x", "type": "quantitative", "scale": {"domain": [0, 50]}, "axis": {"title": null, "values": [0,10,20,30,40,50], "labelPadding": 6}},
  "y": {"field": "y", "type": "quantitative", "scale": {"domain": [0, 3]}, "axis": {"title": null, "values": [0,1,2,3], "labelPadding": 5}}
 },
 "layer": [
  {"data": {"name": "nacl"}, "transform": [{"filter": "datum.p == 'BL'"}], "mark": {"type": "line", "stroke": "#555", "strokeWidth": 1, "strokeDash": [1.5, 1.5]}},
  {"data": {"name": "abs"}, "transform": [{"filter": "datum.f == 'S' && (datum.s == 'JIM7' || datum.s == 'LM19')"}], "mark": {"type": "line", "strokeWidth": 3},
   "encoding": {"color": {"field": "s", "type": "nominal", "scale": {"domain": ["LM19","JIM7","INRA-RU1","LM6-M","LM5"], "range": ["#e8141c","#c741dc","#27b4e8","#2cb52a","#f5a540"]},
     "legend": {"title": null, "orient": "none", "legendX": 47, "legendY": 557, "direction": "horizontal", "columns": 5,
      "labelExpr": "datum.label == 'LM19' ? ['LM19', '(HG)'] : datum.label == 'JIM7' ? ['JIM7', '(mHG)'] : datum.label == 'INRA-RU1' ? ['INRA-RU1', '(RG-I)'] : datum.label == 'LM6-M' ? ['LM6-M', '(1-5 ara)'] : ['LM5', '(1-4 gal)']"}}}},
  {"data": {"name": "abs"}, "transform": [{"filter": "datum.f == 'S' && (datum.s == 'JIM7' || datum.s == 'LM19')"}], "mark": {"type": "point", "shape": "square", "filled": true, "size": 5, "color": "#111", "opacity": 1}},
  {"data": {"values": [{"x": 40, "y": 3.0, "y2": -0.03}]}, "mark": {"type": "rule", "strokeDash": [5, 3], "strokeWidth": 2, "color": "#000"}, "encoding": {"y2": {"field": "y2"}}},
  {"data": {"values": [{"x": 2.2, "y": 2.69, "t": "Strawberry"}]}, "mark": {"type": "text", "align": "left", "baseline": "alphabetic", "fontSize": 19, "color": "#000"}, "encoding": {"text": {"field": "t"}}},
  {"data": {"values": [{"x": 46.1, "y": 2.58, "t": "NaCl"}]}, "mark": {"type": "text", "align": "center", "baseline": "middle", "fontSize": 15, "color": "#777"}, "encoding": {"text": {"field": "t"}}},
  {"data": {"values": [{"x": 53.2, "y": -0.75, "t": "Elution volume (ml)"}]}, "mark": {"type": "text", "align": "center", "baseline": "alphabetic", "fontSize": 22, "fontWeight": "bold", "color": "#000"}, "encoding": {"text": {"field": "t"}}},
  {"data": {"values": [{"x": -0.7, "x2": 106.4, "y": -0.93}]}, "mark": {"type": "rule", "strokeWidth": 3, "color": "#555"}, "encoding": {"x2": {"field": "x2"}}}
 ]
},
{
 "width": 354, "height": 217,
 "encoding": {
  "x": {"field": "x", "type": "quantitative", "scale": {"domain": [0, 50]}, "axis": {"title": null, "values": [0,10,20,30,40,50], "labelPadding": 6}},
  "y": {"field": "y", "type": "quantitative", "scale": {"domain": [0, 3]}, "axis": {"title": null, "values": [0,1,2,3], "labels": false}}
 },
 "layer": [
  {"data": {"name": "nacl"}, "transform": [{"filter": "datum.p == 'BR'"}], "mark": {"type": "line", "stroke": "#555", "strokeWidth": 1, "strokeDash": [1.5, 1.5]}},
  {"data": {"name": "abs"}, "transform": [{"filter": "datum.f == 'S' && (datum.s == 'LM6-M' || datum.s == 'LM5' || datum.s == 'INRA-RU1')"}], "mark": {"type": "line", "strokeWidth": 3},
   "encoding": {"color": {"field": "s", "type": "nominal", "scale": {"domain": ["LM19","JIM7","INRA-RU1","LM6-M","LM5"], "range": ["#e8141c","#c741dc","#27b4e8","#2cb52a","#f5a540"]},
     "legend": {"title": null, "orient": "none", "legendX": 47, "legendY": 557, "direction": "horizontal", "columns": 5,
      "labelExpr": "datum.label == 'LM19' ? ['LM19', '(HG)'] : datum.label == 'JIM7' ? ['JIM7', '(mHG)'] : datum.label == 'INRA-RU1' ? ['INRA-RU1', '(RG-I)'] : datum.label == 'LM6-M' ? ['LM6-M', '(1-5 ara)'] : ['LM5', '(1-4 gal)']"}}}},
  {"data": {"name": "abs"}, "transform": [{"filter": "datum.f == 'S' && (datum.s == 'LM6-M' || datum.s == 'LM5' || datum.s == 'INRA-RU1')"}], "mark": {"type": "point", "shape": "square", "filled": true, "size": 5, "color": "#111", "opacity": 1}},
  {"data": {"values": [{"x": 40, "y": 3.0, "y2": -0.03}]}, "mark": {"type": "rule", "strokeDash": [5, 3], "strokeWidth": 2, "color": "#000"}, "encoding": {"y2": {"field": "y2"}}},
  {"data": {"values": [{"x": 2.3, "y": 2.69, "t": "Strawberry"}]}, "mark": {"type": "text", "align": "left", "baseline": "alphabetic", "fontSize": 19, "color": "#000"}, "encoding": {"text": {"field": "t"}}},
  {"data": {"values": [{"x": 45.8, "y": 2.56, "t": "NaCl"}]}, "mark": {"type": "text", "align": "center", "baseline": "middle", "fontSize": 15, "color": "#777"}, "encoding": {"text": {"field": "t"}}}
 ]
}
]
}
